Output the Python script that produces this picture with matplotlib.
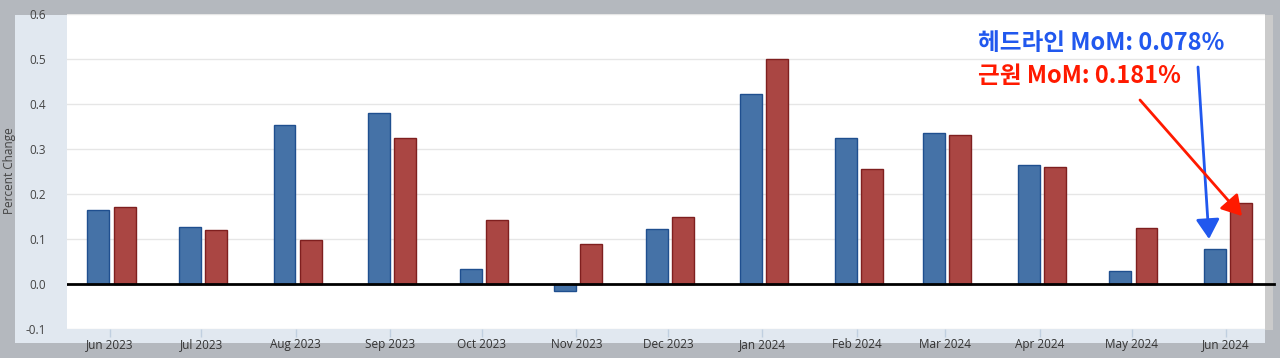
import datetime as dt
import matplotlib
matplotlib.use("Agg")
import matplotlib.pyplot as plt
import matplotlib.dates as mdates
from matplotlib.patches import Rectangle
from matplotlib.lines import Line2D

# 월별 데이터 (Percent Change)
months = ["2023-06", "2023-07", "2023-08", "2023-09", "2023-10", "2023-11", "2023-12",
          "2024-01", "2024-02", "2024-03", "2024-04", "2024-05", "2024-06"]
headline = [0.165, 0.127, 0.353, 0.380, 0.033, -0.015, 0.122,
            0.422, 0.325, 0.336, 0.265, 0.029, 0.078]
core = [0.170, 0.120, 0.098, 0.325, 0.142, 0.089, 0.149,
        0.500, 0.256, 0.331, 0.260, 0.124, 0.181]
yticks = [-0.1, 0.0, 0.1, 0.2, 0.3, 0.4, 0.5, 0.6]

W, H = 1280, 358
OUTER = "#b4b8be"
PANEL = "#e1e8f0"


def fx(px):
    return px / W


def fy(py):
    return 1 - py / H


def main():
    plt.rcParams["font.family"] = ["Open Sans", "DejaVu Sans"]
    fig = plt.figure(figsize=(W / 100, H / 100), dpi=100, facecolor=OUTER)

    # 바깥 패널과 오른쪽 스크롤 바 같은 띠
    fig.patches.append(Rectangle((fx(15), fy(343)), fx(1265 - 15), (343 - 15) / H,
                                 transform=fig.transFigure, facecolor=PANEL,
                                 edgecolor="none", zorder=-2))
    fig.patches.append(Rectangle((fx(1265), fy(330)), fx(8), (330 - 15) / H,
                                 transform=fig.transFigure, facecolor="#cbcbcb",
                                 edgecolor="none", zorder=-2))

    ax = fig.add_axes([fx(67), fy(329), fx(1265 - 67), (329 - 14) / H])
    ax.set_facecolor("white")
    ax.set_zorder(1)

    dates = [mdates.date2num(dt.datetime.strptime(m + "-01", "%Y-%m-%d")) for m in months]
    off = 4.3
    width = 7.2
    ax.bar([d - off + 0.6 for d in dates], headline, width=width, color="#4572a7",
           edgecolor="#1f4f8f", linewidth=1, zorder=3)
    ax.bar([d + off + 0.6 for d in dates], core, width=width, color="#aa4643",
           edgecolor="#7f1f1f", linewidth=1, zorder=3)

    left = mdates.date2num(dt.datetime(2023, 5, 18))
    right = mdates.date2num(dt.datetime(2024, 6, 13, 18))
    ax.set_xlim(left, right)
    ax.set_ylim(-0.1, 0.6)

    ax.set_yticks(yticks)
    ax.set_yticklabels(["{:.1f}".format(v) for v in yticks])
    ax.tick_params(axis="y", length=0, pad=15, labelsize=8.5, labelcolor="#444444")
    ax.set_xticks(dates)
    ax.set_xticklabels([dt.datetime.strptime(m, "%Y-%m").strftime("%b %Y") for m in months])
    ax.tick_params(axis="x", length=6, width=1, color="#c0cfe0", pad=8,
                   labelsize=8.5, labelcolor="#333333")
    for lab in ax.get_xticklabels():
        lab.set_verticalalignment("baseline")
    ax.grid(axis="y", color="#e6e6e6", linewidth=1, zorder=0)
    ax.axhline(0, color="black", linewidth=2, zorder=4)
    for s in ax.spines.values():
        s.set_visible(False)

    # 0 선이 오른쪽 띠까지 조금 이어짐
    y0 = ax.transData.transform((0, 0))[1] / H
    fig.lines.append(Line2D([fx(1265), fx(1274)], [y0, y0], transform=fig.transFigure,
                            color="black", linewidth=2, zorder=-1))

    fig.text(fx(10), fy(171), "Percent Change", rotation=90, ha="center", va="center",
             fontsize=8.5, color="#444444")

    # 주석
    kfont = ["Noto Sans CJK KR", "DejaVu Sans"]
    fig.text(fx(978), fy(43), "헤드라인 MoM: 0.078%", family=kfont, fontsize=17,
             fontweight="heavy", color="#2158ee", ha="left", va="center", zorder=5)
    fig.text(fx(978), fy(76), "근원 MoM: 0.181%", family=kfont, fontsize=17,
             fontweight="heavy", color="#ff1a00", ha="left", va="center", zorder=5)

    ax.annotate("", xy=(dates[-1] - 5.6, 0.10), xycoords="data",
                xytext=(1198, H - 67), textcoords="figure pixels",
                arrowprops=dict(arrowstyle="-|>,head_length=0.5,head_width=0.3",
                                color="#2158ee", lw=2, mutation_scale=24,
                                shrinkA=0, shrinkB=0), zorder=6)
    ax.annotate("", xy=(dates[-1] + 5.2, 0.151), xycoords="data",
                xytext=(1140, H - 100), textcoords="figure pixels",
                arrowprops=dict(arrowstyle="-|>,head_length=0.5,head_width=0.3",
                                color="#ff1a00", lw=2, mutation_scale=24,
                                shrinkA=0, shrinkB=0), zorder=6)

    fig.savefig("out.png", dpi=100, facecolor=OUTER)


if __name__ == "__main__":
    main()
